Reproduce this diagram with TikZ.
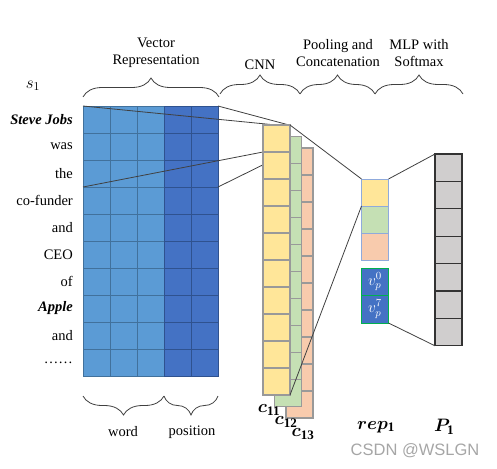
\RequirePackage{fix-cm}
\documentclass[tikz,border=0pt]{standalone}
\usepackage{amsmath,amssymb,bm}
\usepackage{fontspec}
\setmainfont{Liberation Serif}
\newfontfamily\wmfont{Liberation Sans}
\usepackage{tikz}
\usetikzlibrary{decorations.pathreplacing}

\definecolor{wordblue}{RGB}{91,155,213}
\definecolor{wordline}{RGB}{65,113,156}
\definecolor{posblue}{RGB}{68,114,196}
\definecolor{posline}{RGB}{47,82,143}
\definecolor{cyel}{RGB}{255,230,153}
\definecolor{cgreen}{RGB}{197,224,180}
\definecolor{corange}{RGB}{248,203,173}
\definecolor{mlpgray}{RGB}{208,206,206}
\definecolor{repline}{RGB}{143,170,220}
\definecolor{vgreen}{RGB}{0,176,80}

\newcommand{\bsub}[1]{\mbox{\fontsize{13}{13}\selectfont\bfseries #1}}

\begin{document}
\begin{tikzpicture}[x=1pt,y=-1pt,font=\fontsize{14.5}{17}\selectfont,
  cell/.style={draw, minimum size=27, inner sep=0, outer sep=0, line width=0.8},
  cnncell/.style={cell, draw=black!40, line width=1.1},
  vcell/.style={cell, fill=posblue, draw=vgreen, minimum height=27.5, text=white!88, font=\fontsize{15.5}{17}\selectfont},
  word/.style={anchor=east, inner sep=0},
  link/.style={draw=black!75, line width=0.8},
  brace/.style={decorate, decoration={brace, amplitude=19}, draw=black!75, line width=0.8},
  title/.style={align=center, inner sep=0},
  mathlbl/.style={inner sep=0, font=\fontsize{18}{20}\selectfont}]
\useasboundingbox (0,0) rectangle (497,468);

% Vector representation
\foreach \r in {1,...,10}{
  \foreach \c in {1,2,3}
    \node[cell, fill=wordblue, draw=wordline] (m\r-\c) at (69.5+27*\c, 92.5+27*\r) {};
  \foreach \c in {4,5}
    \node[cell, fill=posblue, draw=posline] (m\r-\c) at (69.5+27*\c, 92.5+27*\r) {};
}
\foreach \w [count=\r] in {\textbf{\textit{Steve Jobs}},was,the,co-funder,and,CEO,of,\textbf{\textit{Apple}},and,……}
  \node[word] (w\r) at (73, 92.5+27*\r) {\w};
\node[mathlbl, font=\fontsize{17}{19}\selectfont] (s1) at (33,86) {$s_1$};

% CNN (back to front)
\foreach \i in {1,...,10}
  \node[cnncell, fill=corange] (o\i) at (299.5, 134.5+27*\i) {};
\foreach \i in {1,...,10}
  \node[cnncell, fill=cgreen] (g\i) at (288, 123+27*\i) {};
\draw[link] (m1-1.north west) -- (276,125);
\draw[link] (m1-5.north east) -- (289,125);
\draw[link] (m3-1.south west) -- (263,152);
\draw[link] (m3-5.south east) -- (289,152);
\foreach \i in {1,...,10}
  \node[cnncell, fill=cyel] (y\i) at (276.5, 111.5+27*\i) {};

% Pooling and concatenation
\node[cell, fill=cyel, draw=repline] (r1) at (375,192.5) {};
\node[cell, fill=cgreen, draw=repline] (r2) at (375,219.5) {};
\node[cell, fill=corange, draw=repline] (r3) at (375,246.5) {};
\node[vcell] (v1) at (375,281.75) {$v_p^0$};
\node[vcell] (v2) at (375,309.25) {$v_p^7$};

% MLP
\foreach \i in {1,...,7}
  \node[cell, fill=mlpgray, draw=black!80, line width=1.1, minimum height=27.4] (p\i) at (448.5, 140.3+27.4*\i) {};

% Connectors
\draw[link] (y1.north east) -- (r1.north west);
\draw[link] (y10.south east) -- (r1.south west);
\draw[link] (r1.north east) -- (p1.north west);
\draw[link] (v2.south east) -- (p7.south west);

% Braces
\draw[brace] (83,97) -- (219,97);
\draw[brace] (220,94) -- (300,94);
\draw[brace] (300,94) -- (375,94);
\draw[brace] (375,94) -- (463,94);
\draw[brace] (164,396) -- (83,396);
\draw[brace] (218,396) -- (164,396);

% Labels
\node[title] (t1) at (156,53) {Vector\\Representation};
\node[title] (t2) at (260,65) {CNN};
\node[title] (t3) at (338,53) {Pooling and\\Concatenation};
\node[title] (t4) at (419,53) {MLP with\\Softmax};
\node (lw) at (123,432) {word};
\node (lp) at (192,432) {position};
\node[mathlbl] (c11) at (269,410) {$\bm{c}_{\bsub{11}}$};
\node[mathlbl] (c12) at (286,422) {$\bm{c}_{\bsub{12}}$};
\node[mathlbl] (c13) at (303,434) {$\bm{c}_{\bsub{13}}$};
\node[mathlbl] (rep) at (376,427) {$\bm{rep}_{\bsub{1}}$};
\node[mathlbl] (P1) at (444,427) {$\bm{P}_{\bsub{1}}$};
\node[text=black!35, font=\wmfont\fontsize{16.5}{18}\selectfont] (wm) at (415,451) {CSDN @WSLGN};
\end{tikzpicture}
\end{document}
